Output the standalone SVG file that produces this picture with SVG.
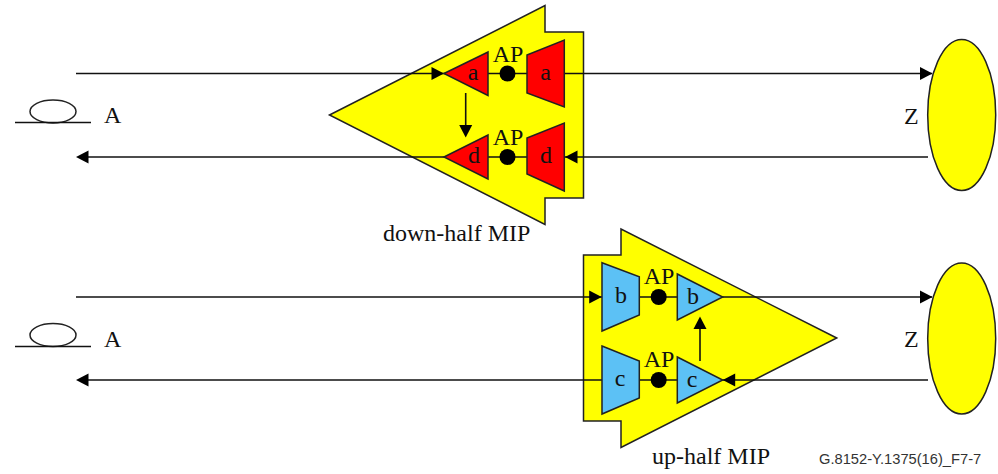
<svg xmlns="http://www.w3.org/2000/svg" width="998" height="474" viewBox="0 0 998 474">
<style>
text{font-family:"Liberation Serif","Times New Roman",serif;font-size:24px;fill:#111}
.mip{fill:#ff0;stroke:#222;stroke-width:1.5}
.red{fill:#f00;stroke:#222;stroke-width:1.5}
.blue{fill:#5cc1f5;stroke:#222;stroke-width:1.5}
.end{fill:#ff0;stroke:#222;stroke-width:1.5}
.wire{fill:none;stroke:#111;stroke-width:1.6}
.head{fill:#000}
.m{text-anchor:middle}
.ap{fill:#000}
.loop{fill:#fff;stroke:#222;stroke-width:1.5}
.foot{font-family:"Liberation Sans",Arial,sans-serif;font-size:14.7px;fill:#333}
</style>
<g id="mip-down">
<polygon class="mip" points="329.5,115 545,5.5 545,32 583.5,32 583.5,198 545,198 545,224.5"/>
<text x="383" y="241">down-half MIP</text>
</g>
<g id="mip-up">
<polygon class="mip" points="836.7,338 621,229 621,255 583.5,255 583.5,421 621,421 621,447.5"/>
<text x="652" y="464">up-half MIP</text>
</g>
<g id="connectors">
<path class="wire" d="M76 73.5H932"/>
<path class="wire" d="M88 157H928"/>
<path class="wire" d="M76 297H932"/>
<path class="wire" d="M88 380H928"/>
<path class="wire" d="M465.7 93V126"/>
<path class="wire" d="M700 361V328"/>
<polygon class="head" points="444,73.5 431.5,67 431.5,80"/>
<polygon class="head" points="932.5,73.5 920,67 920,80"/>
<polygon class="head" points="76,157 88.5,150.5 88.5,163.5"/>
<polygon class="head" points="565,157 577.5,150.5 577.5,163.5"/>
<polygon class="head" points="465.7,137.5 459.2,125 472.2,125"/>
<polygon class="head" points="601.7,297 589.2,290.5 589.2,303.5"/>
<polygon class="head" points="932.5,297 920,290.5 920,303.5"/>
<polygon class="head" points="76,380 88.5,373.5 88.5,386.5"/>
<polygon class="head" points="722.7,380 735.2,373.5 735.2,386.5"/>
<polygon class="head" points="700,316.5 693.5,329 706.5,329"/>
</g>
<g id="tri-a"><polygon class="red" points="444,73.5 488,52 488,95.5"/><text class="m" x="473" y="80">a</text></g>
<g id="ap-a"><circle class="ap" cx="507.5" cy="73.5" r="8"/><text class="m" x="508" y="62">AP</text></g>
<g id="trap-a"><polygon class="red" points="527,55 564.3,40 564.3,107 527,93"/><text class="m" x="545.5" y="80">a</text></g>
<g id="tri-d"><polygon class="red" points="444,157 488,135 488,179"/><text class="m" x="474" y="163">d</text></g>
<g id="ap-d"><circle class="ap" cx="507.5" cy="157" r="8"/><text class="m" x="508" y="145">AP</text></g>
<g id="trap-d"><polygon class="red" points="527,138 564.3,123 564.3,191 527,174"/><text class="m" x="546" y="163">d</text></g>
<g id="trap-b"><polygon class="blue" points="602,262.7 639.3,276.7 639.3,315 602,331"/><text class="m" x="621" y="303">b</text></g>
<g id="ap-b"><circle class="ap" cx="658.7" cy="297" r="8"/><text class="m" x="659" y="284">AP</text></g>
<g id="tri-b"><polygon class="blue" points="677.3,274 722.7,297 677.3,320"/><text class="m" x="693" y="304">b</text></g>
<g id="trap-c"><polygon class="blue" points="602,346 639.3,361 639.3,398 602,414"/><text class="m" x="620" y="386">c</text></g>
<g id="ap-c"><circle class="ap" cx="658.7" cy="380" r="8"/><text class="m" x="659" y="367">AP</text></g>
<g id="tri-c"><polygon class="blue" points="677.3,357 722.7,380 677.3,403"/><text class="m" x="692" y="387">c</text></g>
<g id="end-a-top"><ellipse class="loop" cx="53" cy="111.5" rx="23" ry="11.5"/><path class="wire" d="M15 122.5H91"/><text x="104" y="123">A</text></g>
<g id="end-a-bottom"><ellipse class="loop" cx="53" cy="335" rx="23" ry="11.5"/><path class="wire" d="M15 346.5H91"/><text x="104" y="347">A</text></g>
<g id="end-z-top"><ellipse class="end" cx="961.7" cy="115" rx="34" ry="75.5"/><text x="904" y="124">Z</text></g>
<g id="end-z-bottom"><ellipse class="end" cx="961.7" cy="338.5" rx="34" ry="75.5"/><text x="904" y="347">Z</text></g>
<text class="foot" x="819" y="464">G.8152-Y.1375(16)_F7-7</text>
</svg>
